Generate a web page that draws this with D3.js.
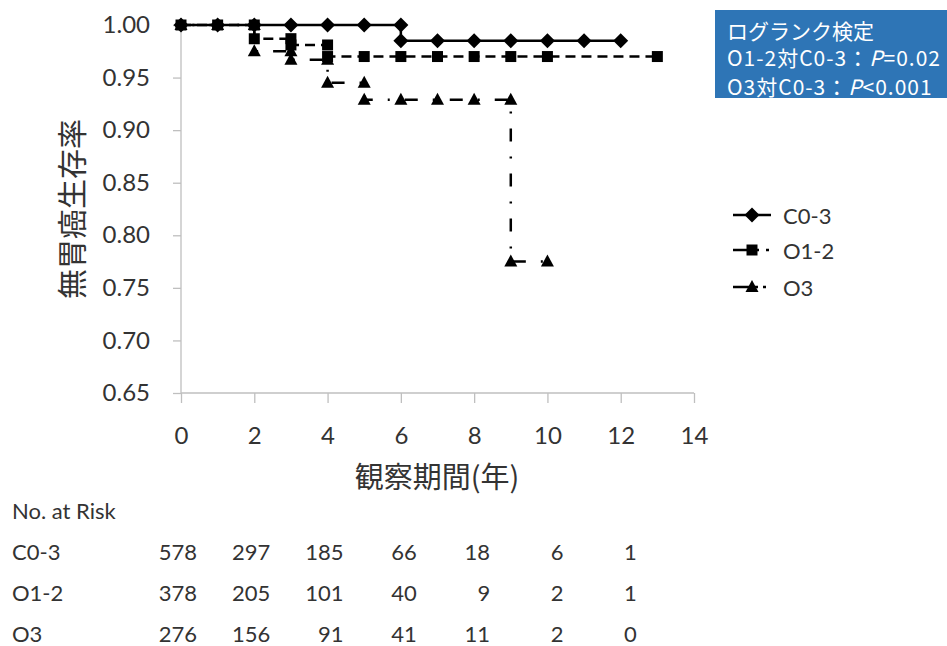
<!DOCTYPE html>
<html><head><meta charset="utf-8">
<script src="https://cdn.jsdelivr.net/npm/d3@7"></script>
<style>
html,body{margin:0;padding:0;background:#fff;}
svg{display:block;}
</style></head>
<body>
<svg id="chart" width="947" height="646"></svg>
<script>
// ---- data ----
const seriesNames = ["C0-3", "O1-2", "O3"];
const c03Time = [0,1,2,3,4,5,6,6,7,8,9,10,11,12];
const c03Surv = [1,1,1,1,1,1,1,0.985,0.985,0.985,0.985,0.985,0.985,0.985];
const o12Time = [0,1,2,2,3,3,4,4,5,6,7,8,9,10,13];
const o12Surv = [1,1,1,0.987,0.987,0.981,0.981,0.970,0.970,0.970,0.970,0.970,0.970,0.970,0.970];
const o3Time = [0,1,2,2,3,3,4,4,5,5,6,7,8,9,9,10];
const o3Surv = [1,1,1,0.975,0.975,0.967,0.967,0.945,0.945,0.929,0.929,0.929,0.929,0.929,0.775,0.775];
const xTicks = [0,2,4,6,8,10,12,14];
const yTicks = [0.65,0.70,0.75,0.80,0.85,0.90,0.95,1.00];
const riskTimes = [0,2,4,6,8,10,12];
const riskC03 = [578,297,185,66,18,6,1];
const riskO12 = [378,205,101,40,9,2,1];
const riskO3 = [276,156,91,41,11,2,0];
const yTitle = "無胃癌生存率";
const xTitle = "観察期間(年)";
const boxLines = ["ログランク検定", "O1-2対C0-3：", "O3対C0-3："];
const boxP = ["", "=0.02", "<0.001"];

// ---- setup ----
const svg = d3.select("#chart");
const latin = "Lato, 'Open Sans', sans-serif";
const cjk = "'Noto Sans CJK JP', 'Noto Sans', sans-serif";
const x = d3.scaleLinear().domain([0,14]).range([181,694]);
const y = d3.scaleLinear().domain([0.65,1.0]).range([393,25]);
const axisColor = "#bfbfbf";
const textColor = "#333";

// axes
const gy = svg.append("g").attr("transform","translate(181,0)")
  .call(d3.axisLeft(y).tickValues(yTicks).tickSize(8).tickPadding(23).tickFormat(d3.format(".2f")));
const gx = svg.append("g").attr("transform","translate(0,393)")
  .call(d3.axisBottom(x).tickValues(xTicks).tickSize(10).tickPadding(24).tickFormat(d3.format("d")));
[gx, gy].forEach(g => {
  g.select(".domain").attr("stroke", axisColor).attr("stroke-width", 1.3);
  g.selectAll(".tick line").attr("stroke", axisColor).attr("stroke-width", 1.3);
  g.selectAll(".tick text").attr("fill", textColor).style("font-family", latin).style("font-size","24px");
});
gx.select(".domain").attr("d", "M181,0H694");
gy.select(".domain").attr("d", "M0,25V393");

// titles
svg.append("text").attr("transform","translate(70,209) rotate(-90)")
  .attr("text-anchor","middle").attr("dominant-baseline","central")
  .style("font-family", cjk).style("font-size","30px").attr("fill", textColor).text(yTitle);
svg.append("text").attr("x",437).attr("y",475)
  .attr("text-anchor","middle").attr("dominant-baseline","central")
  .style("font-family", cjk).style("font-size","29px").attr("fill", textColor).text(xTitle);

// series
const series = [
  {name: seriesNames[0], t: c03Time, s: c03Surv, dash: null, offset: 0, legDash: null, shape: "diamond"},
  {name: seriesNames[1], t: o12Time, s: o12Surv, dash: "10,6", offset: 0, legDash: "26,7,3,10", shape: "square"},
  {name: seriesNames[2], t: o3Time, s: o3Surv, dash: "13,15,2,15", offset: 16.6, legDash: "25,5,3,10", shape: "triangle"}
];
const line = d3.line().x(d => x(d[0])).y(d => y(d[1]));
function shapePath(shape, cx, cy) {
  if (shape === "diamond") return `M${cx},${cy-7.5}L${cx+7.5},${cy}L${cx},${cy+7.5}L${cx-7.5},${cy}Z`;
  if (shape === "square") return `M${cx-5.5},${cy-5.5}h11v11h-11Z`;
  return `M${cx},${cy-7}L${cx+6.5},${cy+5}L${cx-6.5},${cy+5}Z`;
}
const drawOrder = [2,1,0];
drawOrder.forEach(i => {
  const sr = series[i];
  const pts = sr.t.map((t,k) => [t, sr.s[k]]);
  svg.append("path").attr("d", line(pts)).attr("fill","none")
    .attr("stroke","#000").attr("stroke-width",2.5)
    .attr("stroke-dasharray", sr.dash).attr("stroke-dashoffset", sr.offset);
});
drawOrder.forEach(i => {
  const sr = series[i];
  const pts = sr.t.map((t,k) => [t, sr.s[k]]);
  svg.append("g").selectAll("path").data(pts).join("path")
    .attr("d", d => shapePath(sr.shape, x(d[0]), y(d[1])))
    .attr("fill","#000");
});

// legend
const legY = [215, 250, 287];
series.forEach((sr,i) => {
  const g = svg.append("g");
  g.append("line").attr("x1",733).attr("x2",771).attr("y1",legY[i]).attr("y2",legY[i])
    .attr("stroke","#000").attr("stroke-width",2.5).attr("stroke-dasharray", sr.legDash);
  g.append("path").attr("d", shapePath(sr.shape, 752, legY[i])).attr("fill","#000");
  g.append("text").attr("x",783).attr("y",legY[i]).attr("dominant-baseline","central")
    .style("font-family", latin).style("font-size","22px").attr("fill", textColor).text(sr.name);
});

// log-rank box
svg.append("rect").attr("x",715).attr("y",10).attr("width",240).attr("height",88).attr("fill","#2e75b6");
const boxY = [30, 57, 86];
boxLines.forEach((txt,i) => {
  const t = svg.append("text").attr("x",727).attr("y",boxY[i]).attr("dominant-baseline","central")
    .style("font-family", cjk).style("font-size","21px").attr("fill","#fff")
    .style("letter-spacing", i === 0 ? "0px" : "1px");
  t.append("tspan").text(txt);
  if (boxP[i]) {
    t.append("tspan").style("font-style","italic").text("P");
    t.append("tspan").text(boxP[i]);
  }
});

// risk table
const rowY = [551, 592, 633];
svg.append("text").attr("x",12).attr("y",510).attr("dominant-baseline","central")
  .style("font-family", latin).style("font-size","22px").attr("fill", textColor).text("No. at Risk");
[riskC03, riskO12, riskO3].forEach((row,i) => {
  svg.append("text").attr("x",12).attr("y",rowY[i]).attr("dominant-baseline","central")
    .style("font-family", latin).style("font-size","22px").attr("fill", textColor).text(seriesNames[i]);
  svg.append("g").selectAll("text").data(row).join("text")
    .attr("x",(d,k) => x(riskTimes[k]) + 16).attr("y",rowY[i])
    .attr("text-anchor","end").attr("dominant-baseline","central")
    .style("font-family", latin).style("font-size","22px").attr("fill", textColor).text(d => d);
});
</script>
</body></html>
